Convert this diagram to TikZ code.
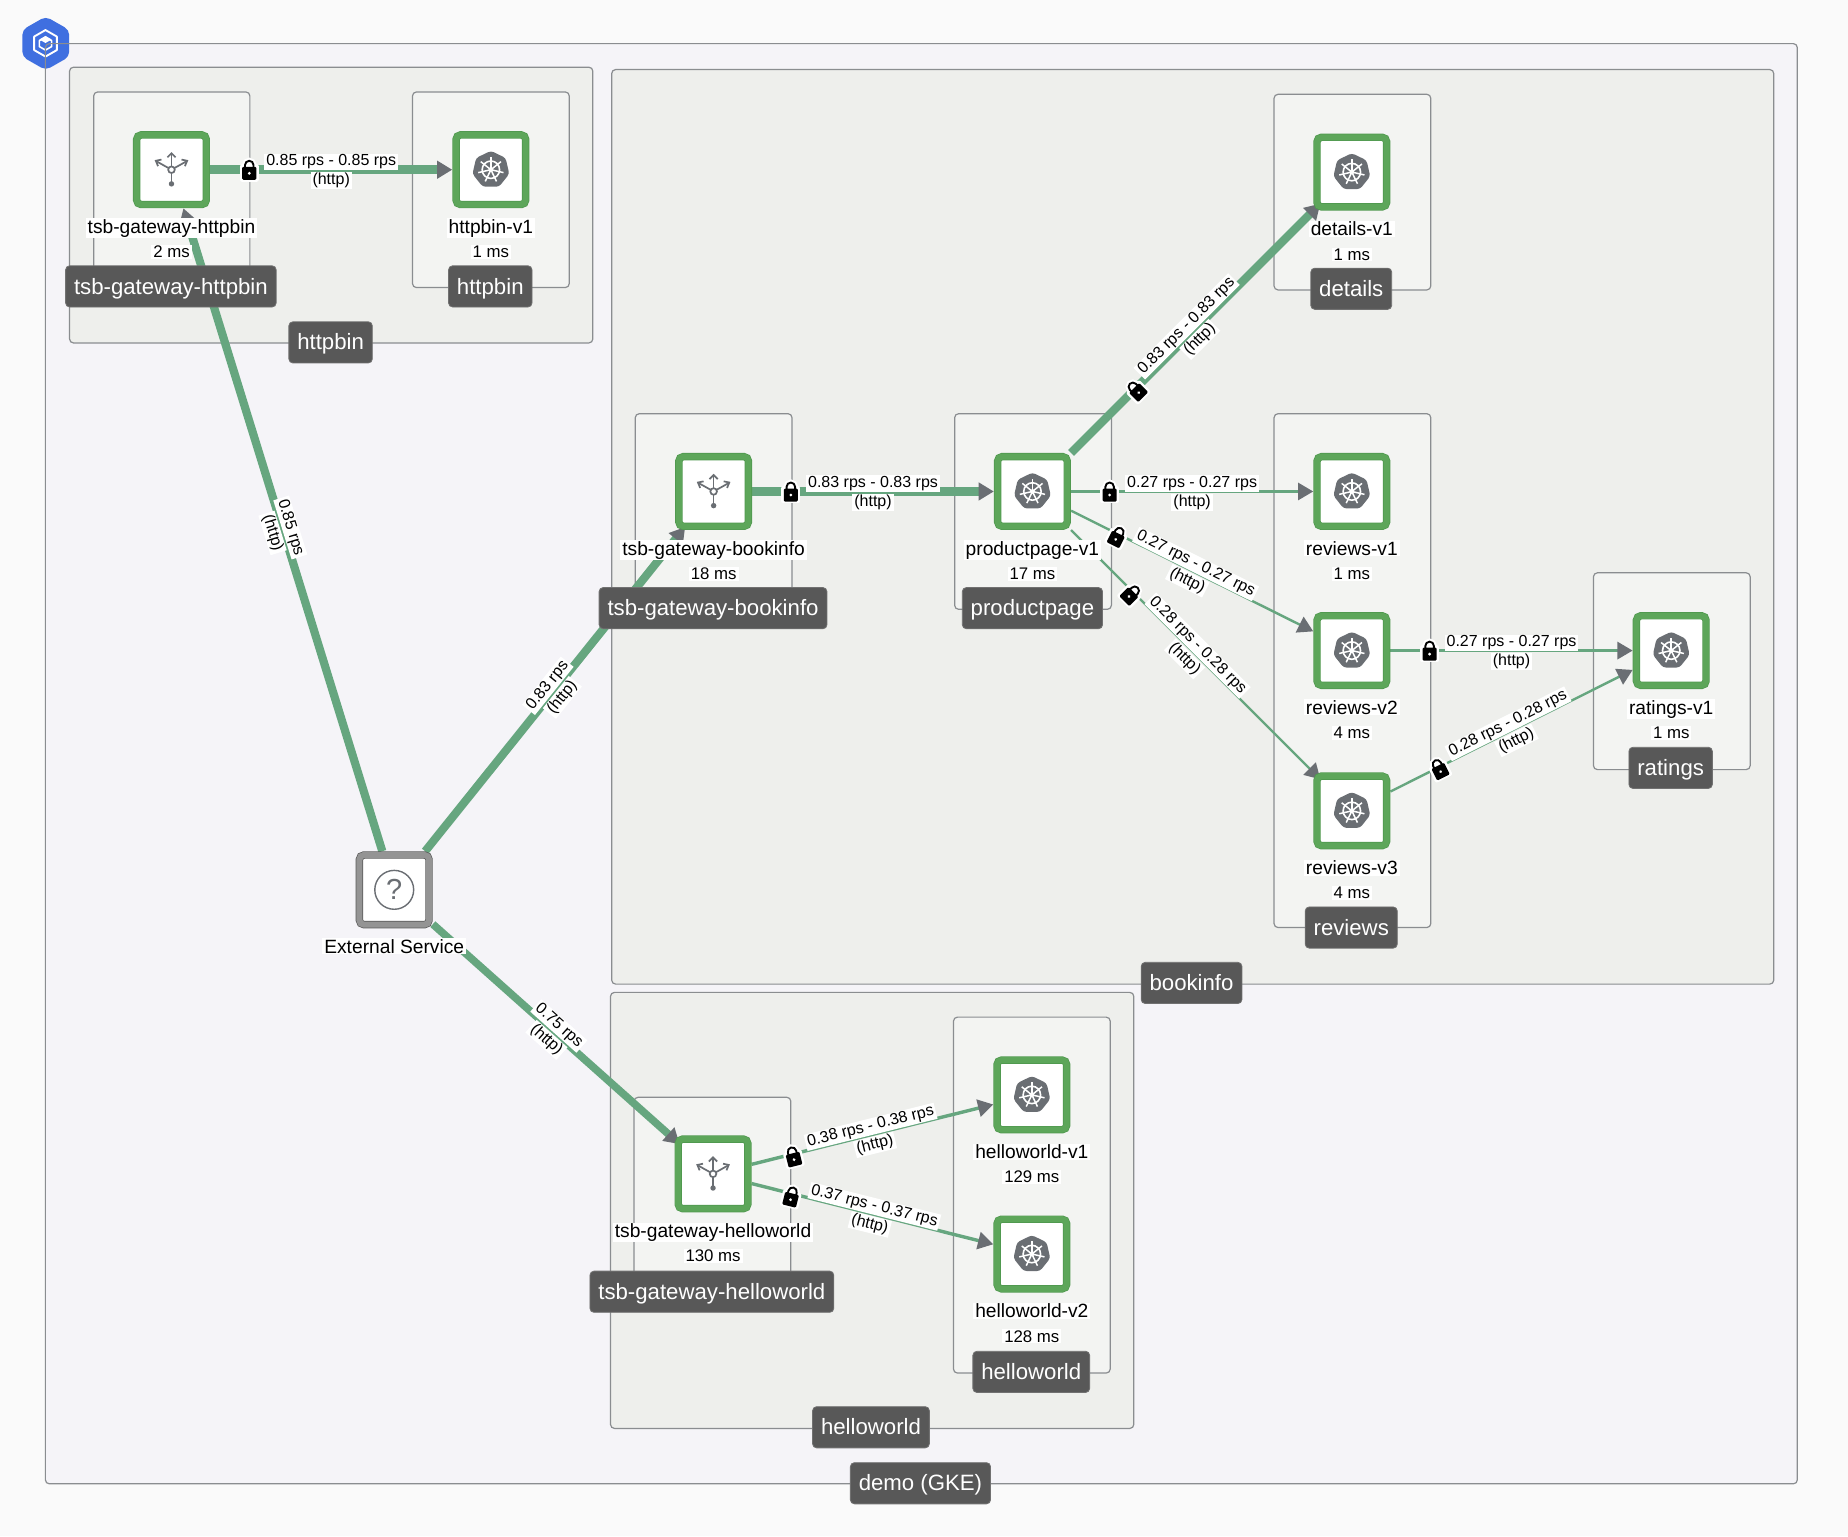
\documentclass[tikz,border=0pt]{standalone}
\usepackage{fontspec}
\setmainfont{Liberation Sans}
\usetikzlibrary{arrows.meta,calc}
\pgfdeclarelayer{back}\pgfdeclarelayer{edges}\pgfdeclarelayer{lab}\pgfdeclarelayer{top}
\pgfsetlayers{back,edges,main,lab,top}
\definecolor{pagebg}{HTML}{FAFAFA}
\definecolor{outerbg}{HTML}{F5F4F8}
\definecolor{nsbg}{HTML}{EEEFEC}
\definecolor{svcbg}{HTML}{F3F4F2}
\definecolor{boxline}{HTML}{8A8D90}
\definecolor{grn}{HTML}{5DA65A}
\definecolor{grndk}{HTML}{4F984E}
\definecolor{flow}{HTML}{66A67F}
\definecolor{tip}{HTML}{6A6E73}
\definecolor{tag}{HTML}{585858}
\definecolor{hexblue}{HTML}{3F6FE0}
\newsavebox\hlbox
\newcommand\hl[1]{\leavevmode\sbox\hlbox{#1}\rlap{\hskip-1pt\color{white}\rule[\dimexpr-\dp\hlbox-0.5pt\relax]{\dimexpr\wd\hlbox+2pt\relax}{\dimexpr\ht\hlbox+\dp\hlbox+1pt\relax}}\usebox\hlbox}
\newcommand\rt{\rule{0pt}{7.7pt}}
\tikzset{
 x=0.58929pt,y=-0.58929pt,
 groupbox/.style={draw=boxline,line width=0.6pt,rounded corners=2pt},
 nsbox/.style={groupbox,fill=nsbg},
 svcbox/.style={groupbox,fill=svcbg},
 tagnode/.style={fill=tag,draw=tag!85!white,line width=0.4pt,rounded corners=2pt,text=white,font=\fontsize{11.1}{13}\selectfont,inner xsep=4.2pt,inner ysep=0pt,minimum height=20.6pt,text height=9.6pt,text depth=2pt},
 wl/.style={draw=grndk,double=grn,double distance=3pt,line width=0.35pt,fill=white,minimum size=34.8pt,inner sep=0pt,rounded corners=2.2pt,outer sep=1.9pt},
 ext/.style={wl,draw=black!65,double=black!42},
 vlab/.style={align=center,inner sep=0pt},
 flowline/.style={draw=flow,-{Triangle[length=7.6pt,width=8.6pt,color=tip]}},
 edgelab/.style={midway,sloped,align=center,inner sep=0pt,font=\fontsize{8}{9.4}\selectfont},
}
\newcommand\vl[2]{{\fontsize{9.6}{12.7}\selectfont\hl{#1}}\\[0.2pt]{\fontsize{8.4}{10}\selectfont\hl{#2}}}
\newcommand\el[2]{\rt\hl{#1}\\\hl{#2}}
\tikzset{
 kube/.pic={\begin{scope}[x=0.58929pt,y=0.58929pt]
  \fill[tip,rounded corners=1.5pt] (90:16) -- (141.4:16) -- (192.9:16) -- (244.3:16) -- (295.7:16) -- (347.1:16) -- (38.6:16) -- cycle;
  \draw[white,line width=0.8pt] (0,0) circle (7.4);
  \foreach \a in {90,141.4,192.9,244.3,295.7,347.1,38.6}{\draw[white,line width=0.75pt] (0,0) -- (\a:11);}
  \fill[white] (0,0) circle (2);
 \end{scope}},
 gate/.pic={\begin{scope}[x=0.58929pt,y=0.58929pt]
  \draw[tip,line width=0.85pt] (0,-12) -- (0,13);
  \draw[tip,line width=0.85pt] (0,0) -- (12.5,7);
  \draw[tip,line width=0.85pt] (0,0) -- (-12.5,7);
  \fill[tip] (0,-12) circle (2.3);
  \draw[tip,line width=0.85pt,fill=white] (0,0) circle (2.8);
  \draw[tip,line width=0.85pt] (-3.5,10.5) -- (0,14) -- (3.5,10.5);
  \draw[tip,line width=0.85pt] (8.5,8.6) -- (13.3,7.6) -- (11.4,3);
  \draw[tip,line width=0.85pt] (-8.5,8.6) -- (-13.3,7.6) -- (-11.4,3);
 \end{scope}},
 unknown/.pic={\begin{scope}[x=0.58929pt,y=0.58929pt]
  \draw[tip,line width=0.7pt] (0,0) circle (16.5);
  \node[text=tip,inner sep=0pt,font=\fontsize{14.5}{16}\selectfont] (qmark) at (0,0) {?};
 \end{scope}},
 lock/.pic={\begin{scope}[x=0.58929pt,y=0.58929pt,yshift=-0.6pt]
  \draw[white,line width=2.4pt,line join=round] (-6,-7) rectangle (6,3.5);
  \draw[white,line width=3pt] (-3.6,3) -- (-3.6,5) arc[start angle=180,end angle=0,radius=2.12pt] -- (3.6,3);
  \draw[black,line width=0.95pt] (-3.6,3) -- (-3.6,5) arc[start angle=180,end angle=0,radius=2.12pt] -- (3.6,3);
  \fill[black,rounded corners=0.6pt] (-6,-7.5) rectangle (6,3.5);
  \fill[white] (0,-2) circle (1.3);
 \end{scope}},
}
\begin{document}
\begin{tikzpicture}
\useasboundingbox (0,0) rectangle (1568,1303.3);
\begin{pgfonlayer}{back}
\fill[pagebg] (0,0) rectangle (1568,1303.3);
\fill[outerbg,rounded corners=2pt] (38.5,37) rectangle (1525,1259);
% hexagon badge
\fill[hexblue,rounded corners=2.5pt] (38.8,14) -- (58.7,25.3) -- (58.7,48.2) -- (38.8,59.5) -- (19,48.2) -- (19,25.3) -- cycle;
\draw[white,line width=0.95pt,line join=round] (38.6,25.5) -- (48.2,31) -- (48.2,42.5) -- (38.6,48) -- (29,42.5) -- (29,31) -- cycle;
\draw[white,line width=0.8pt,line join=round] (38.6,31.5) -- (43.8,34.5) -- (43.8,39.5) -- (38.6,42.5) -- (33.4,39.5) -- (33.4,34.5) -- cycle;
\fill[white] (38.6,30.5) -- (43.8,33.5) -- (38.6,36.5) -- (33.4,33.5) -- cycle;
\draw[groupbox] (38.5,37) rectangle (1525,1259);
% namespace boxes
\draw[nsbox] (59,57) rectangle (503,291);
\draw[nsbox] (519,59) rectangle (1505,835);
\draw[nsbox] (518,842) rectangle (962,1212);
% service boxes
\draw[svcbox] (79.5,78) rectangle (212,244);
\draw[svcbox] (350,78) rectangle (483,244);
\draw[svcbox] (1081,80) rectangle (1214,246);
\draw[svcbox] (539,351) rectangle (672,517);
\draw[svcbox] (810,351) rectangle (943,517);
\draw[svcbox] (1081,351) rectangle (1214,787);
\draw[svcbox] (1352,486) rectangle (1485,653);
\draw[svcbox] (538,931) rectangle (671,1097);
\draw[svcbox] (809,863) rectangle (942,1165);
\end{pgfonlayer}
% workloads
\node[wl] (gwhttpbin) at (145.5,144) {};
\node[wl] (httpbinv1) at (416.5,144) {};
\node[wl] (detailsv1) at (1147,146) {};
\node[wl] (gwbook) at (605.5,417) {};
\node[wl] (ppv1) at (876,417) {};
\node[wl] (revv1) at (1147,417) {};
\node[wl] (revv2) at (1147,552) {};
\node[wl] (revv3) at (1147,688) {};
\node[wl] (ratv1) at (1418,552) {};
\node[ext] (extsvc) at (334.5,755) {};
\node[wl] (gwhello) at (605,996) {};
\node[wl] (hwv1) at (875.5,929) {};
\node[wl] (hwv2) at (875.5,1064) {};
\pic at (gwhttpbin) {gate};
\pic at (gwbook) {gate};
\pic at (gwhello) {gate};
\foreach \n in {httpbinv1,detailsv1,ppv1,revv1,revv2,revv3,ratv1,hwv1,hwv2}{\pic at (\n) {kube};}
\pic at (extsvc) {unknown};
% connectors
\begin{pgfonlayer}{edges}
\draw[flowline,line width=4.3pt] (gwhttpbin) -- (httpbinv1);
\draw[flowline,line width=4.1pt] (extsvc) -- (gwhttpbin);
\draw[flowline,line width=4.1pt,shorten >=-2pt] (extsvc) -- (gwbook);
\draw[flowline,line width=3.8pt,shorten >=-3.5pt] (extsvc) -- (gwhello);
\draw[flowline,line width=4.1pt] (gwbook) -- (ppv1);
\draw[flowline,line width=4.1pt,shorten >=-5pt] (ppv1) -- (detailsv1);
\draw[flowline,line width=1.2pt] (ppv1) -- (revv1);
\draw[flowline,line width=1.2pt] (ppv1) -- (revv2);
\draw[flowline,line width=1.2pt,shorten >=-5pt] (ppv1) -- (revv3);
\draw[flowline,line width=1.2pt] (revv2) -- (ratv1);
\draw[flowline,line width=1.2pt] (revv3) -- (ratv1);
\draw[flowline,line width=1.7pt] (gwhello) -- (hwv1);
\draw[flowline,line width=1.7pt] (gwhello) -- (hwv2);
\end{pgfonlayer}
\begin{pgfonlayer}{lab}
% edge labels
\path (gwhttpbin) -- (httpbinv1) node[edgelab] (l1) {\el{0.85 rps - 0.85 rps}{(http)}};
\path (extsvc) -- (gwhttpbin) node[edgelab] (l2) {\el{0.85 rps}{(http)}};
\path (extsvc) -- (gwbook) node[edgelab] (l3) {\el{0.83 rps}{(http)}};
\path (extsvc) -- (gwhello) node[edgelab] (l4) {\el{0.75 rps}{(http)}};
\path (gwbook) -- (ppv1) node[edgelab] (l5) {\el{0.83 rps - 0.83 rps}{(http)}};
\path (ppv1) -- (detailsv1) node[edgelab] (l6) {\el{0.83 rps - 0.83 rps}{(http)}};
\path (ppv1) -- (revv1) node[edgelab] (l7) {\el{0.27 rps - 0.27 rps}{(http)}};
\path (ppv1) -- (revv2) node[edgelab] (l8) {\el{0.27 rps - 0.27 rps}{(http)}};
\path (ppv1) -- (revv3) node[edgelab] (l9) {\el{0.28 rps - 0.28 rps}{(http)}};
\path (revv2) -- (ratv1) node[edgelab] (l10) {\el{0.27 rps - 0.27 rps}{(http)}};
\path (revv3) -- (ratv1) node[edgelab] (l11) {\el{0.28 rps - 0.28 rps}{(http)}};
\path (gwhello) -- (hwv1) node[edgelab] (l12) {\el{0.38 rps - 0.38 rps}{(http)}};
\path (gwhello) -- (hwv2) node[edgelab] (l13) {\el{0.37 rps - 0.37 rps}{(http)}};
% locks
\pic at (211.5,144) {lock};
\pic at (671,417) {lock};
\pic[rotate=45] at (964,331) {lock};
\pic at (941.5,417) {lock};
\pic[rotate=-26.5] at (948,455) {lock};
\pic[rotate=-45] at (960,504) {lock};
\pic at (1213,552) {lock};
\pic[rotate=26.5] at (1221,652) {lock};
\pic[rotate=14] at (673,981) {lock};
\pic[rotate=-14] at (671.5,1015) {lock};
% workload captions
\node[vlab] (c1) at (145.5,202.5) {\vl{tsb-gateway-httpbin}{2 ms}};
\node[vlab] (c2) at (416.5,202.5) {\vl{httpbin-v1}{1 ms}};
\node[vlab] (c3) at (1147,204.5) {\vl{details-v1}{1 ms}};
\node[vlab] (c4) at (605.5,475.5) {\vl{tsb-gateway-bookinfo}{18 ms}};
\node[vlab] (c5) at (876,475.5) {\vl{productpage-v1}{17 ms}};
\node[vlab] (c6) at (1147,475.5) {\vl{reviews-v1}{1 ms}};
\node[vlab] (c7) at (1147,610.5) {\vl{reviews-v2}{4 ms}};
\node[vlab] (c8) at (1147,746.5) {\vl{reviews-v3}{4 ms}};
\node[vlab] (c9) at (1418,610.5) {\vl{ratings-v1}{1 ms}};
\node[vlab,font=\fontsize{9.6}{12.7}\selectfont] (c10) at (334.5,803) {\hl{External Service}};
\node[vlab] (c11) at (605,1054.5) {\vl{tsb-gateway-helloworld}{130 ms}};
\node[vlab] (c12) at (875.5,987.5) {\vl{helloworld-v1}{129 ms}};
\node[vlab] (c13) at (875.5,1122.5) {\vl{helloworld-v2}{128 ms}};
\end{pgfonlayer}
\begin{pgfonlayer}{top}
\node[tagnode] (t1) at (145,243) {tsb-gateway-httpbin};
\node[tagnode] (t2) at (416,243) {httpbin};
\node[tagnode] (t3) at (1146.5,245) {details};
\node[tagnode] (t4) at (605,516) {tsb-gateway-bookinfo};
\node[tagnode] (t5) at (876,516) {productpage};
\node[tagnode] (t6) at (1146.5,787) {reviews};
\node[tagnode] (t7) at (1417.5,651.5) {ratings};
\node[tagnode] (t8) at (604,1096) {tsb-gateway-helloworld};
\node[tagnode] (t9) at (875,1164) {helloworld};
\node[tagnode] (t10) at (280.5,290.5) {httpbin};
\node[tagnode] (t11) at (1011,834) {bookinfo};
\node[tagnode] (t12) at (739,1211) {helloworld};
\node[tagnode] (t13) at (781,1258.5) {demo (GKE)};
\end{pgfonlayer}
\end{tikzpicture}
\end{document}
